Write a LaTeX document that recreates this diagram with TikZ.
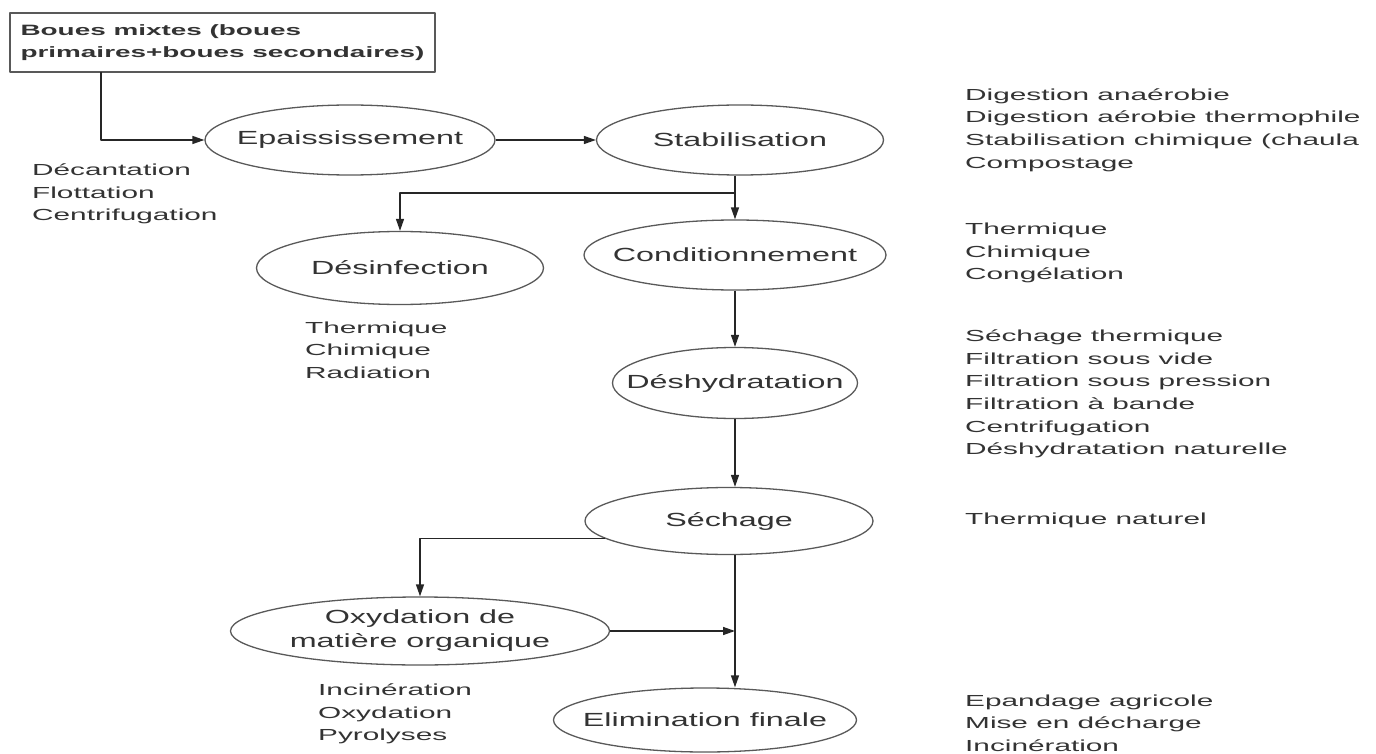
\documentclass[tikz,border=0pt]{standalone}
\usepackage{fontspec}
\setmainfont[FakeStretch=1.86]{Liberation Sans}
\newfontfamily\procfont[FakeStretch=1.7]{Liberation Sans}
\usetikzlibrary{shapes.geometric,arrows.meta}
\definecolor{inkgray}{gray}{0.2}
\definecolor{rimgray}{gray}{0.35}
\tikzset{
	proc/.style={ellipse, draw=rimgray, line width=1.3pt, inner sep=0pt},
	proclbl/.style={font=\procfont\fontsize{19}{24}\selectfont, text=inkgray, align=center},
	note/.style={font=\fontsize{16}{22.7}\selectfont, text=inkgray, align=left, anchor=west, inner sep=0pt},
	flow/.style={->, line width=1.4pt, draw=black!85}
}
\begin{document}
\begin{tikzpicture}[x=1pt, y=-1pt, line join=round, >={Triangle[length=12pt,width=8pt]}]
	\useasboundingbox (0,0) rectangle (1376,754);
	\node[draw=rimgray, line width=2pt, minimum width=425pt, minimum height=59pt, align=left, text=inkgray, font=\bfseries\fontsize{15}{22}\selectfont] (mix) at (222.5,42.5) {Boues mixtes (boues\\primaires+boues secondaires)};
	\node[proc, minimum width=290pt, minimum height=70pt, label={[proclbl]center:Epaississement}] (epa) at (350,140) {};
	\node[proc, minimum width=287pt, minimum height=70pt, label={[proclbl]center:Stabilisation}] (stab) at (740,140) {};
	\node[proc, minimum width=287pt, minimum height=73pt, label={[proclbl]center:Désinfection}] (desinf) at (400,268) {};
	\node[proc, minimum width=302pt, minimum height=70pt, label={[proclbl]center:Conditionnement}] (cond) at (735,255) {};
	\node[proc, minimum width=245pt, minimum height=71pt, label={[proclbl]center:Déshydratation}] (deshyd) at (735,383) {};
	\node[proc, minimum width=288pt, minimum height=67pt, label={[proclbl]center:Séchage}] (sech) at (729,521) {};
	\node[proc, minimum width=379pt, minimum height=68pt, label={[proclbl]center:{Oxydation de\\matière organique}}] (oxyd) at (420,631) {};
	\node[proc, minimum width=303pt, minimum height=64pt, label={[proclbl]center:Elimination finale}] (elim) at (705,720) {};
	\node[note] (epatxt) at (32,194) {Décantation\\Flottation\\Centrifugation};
	\node[note] (stabtxt) at (965,130) {Digestion anaérobie\\Digestion aérobie thermophile\\Stabilisation chimique (chaula\\Compostage};
	\node[note] (condtxt) at (965,253) {Thermique\\Chimique\\Congélation};
	\node[note] (desinftxt) at (305,350) {Thermique\\Chimique\\Radiation};
	\node[note] (deshydtxt) at (965,394) {Séchage thermique\\Filtration sous vide\\Filtration sous pression\\Filtration à bande\\Centrifugation\\Déshydratation naturelle};
	\node[note] (sechtxt) at (965,520) {Thermique naturel};
	\node[note] (oxydtxt) at (318,714) {Incinération\\Oxydation\\Pyrolyses};
	\node[note] (elimtxt) at (965,723) {Epandage agricole\\Mise en décharge\\Incinération};
	\coordinate (mixout) at (101,72);
	\coordinate (trunk) at (735,193);
	\draw[flow] (mixout) |- (epa.west);
	\draw[flow] (epa.east) -- (stab.west);
	\draw[flow] (stab.south -| trunk) -- (cond.north);
	\draw[flow] (trunk) -| (desinf.north);
	\foreach \a/\b in {cond/deshyd, deshyd/sech}
	\draw[flow] (\a.south -| trunk) -- (\b.north -| trunk);
	\draw[flow] (sech.188) -| (oxyd.north);
	\draw[flow] (oxyd.east) -- (oxyd.east -| trunk);
	\draw[flow] (sech.south -| trunk) -- (elim.north -| trunk);
\end{tikzpicture}
\end{document}
